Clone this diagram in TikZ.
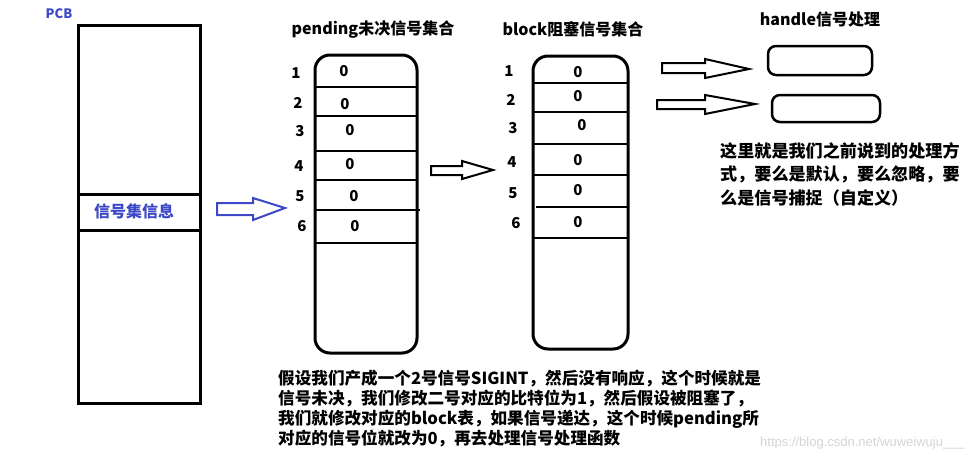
\documentclass[tikz,border=0pt]{standalone}
\usepackage{fontspec}
\setmainfont{Noto Sans CJK SC}
\newfontfamily\urlfont{Liberation Sans}
\definecolor{pcbblue}{RGB}{60,72,200}
\definecolor{markgray}{RGB}{212,212,212}

\begin{document}
\begin{tikzpicture}[x=1pt,y=-1pt,
    box/.style={line width=3pt},
    rowline/.style={line width=2.2pt},
    fatarrow/.style={line width=2pt},
    title/.style={font=\fontsize{16}{18}\selectfont\bfseries, inner sep=0pt},
    num/.style={font=\fontsize{15}{18}\selectfont\bfseries, inner sep=0pt},
    note/.style={font=\fontsize{17}{20}\selectfont\bfseries, inner sep=0pt, anchor=west, align=left}]
            \useasboundingbox (0,0) rectangle (967,463);
            \node[font=\fontsize{13}{15}\selectfont\bfseries, text=pcbblue, inner sep=0pt] (pcb) at (59,14) {PCB};
            \draw[box] (78,25) rectangle (200,403);
            \draw[box] (78,194) -- (200,194);
            \draw[box] (78,230) -- (200,230);
            \node[title, text=pcbblue] (sigset) at (134,211) {信号集信息};
            \draw[fatarrow, draw=pcbblue] (217,203) -- (253,203) -- (253,198) -- (285,208) -- (253,220) -- (253,215) -- (217,215) -- cycle;

            \node[title] (pendtitle) at (373,30) {pending未决信号集合};
            \draw[box, rounded corners=15pt] (315,55) rectangle (417,353);
            \foreach \y/\xb in {87/417, 116/417, 151/417, 180/417, 210/420, 243/417}
                \draw[rowline] (315,\y) -- (\xb,\y);
            \foreach \i/\x/\y in {1/296/73, 2/298/103, 3/300/131, 4/299/166, 5/300/196, 6/302/226}
                \node[num] (pn\i) at (\x,\y) {\i};
            \foreach \i/\x/\y in {1/344/71, 2/345/104, 3/350/130, 4/350/164, 5/354/196, 6/355/226}
                \node[num] (pv\i) at (\x,\y) {0};
            \draw[fatarrow] (431,166) -- (462,166) -- (462,161) -- (493,170) -- (462,179) -- (462,175) -- (431,175) -- cycle;

            \node[title] (blocktitle) at (573,29) {block阻塞信号集合};
            \draw[box, rounded corners=15pt] (533,56) rectangle (628,349);
            \foreach \y/\xa in {83/533, 112/533, 144/533, 175/533, 207/536, 238/533}
                \draw[rowline] (\xa,\y) -- (628,\y);
            \foreach \i/\x/\y in {1/509/71, 2/511/100, 3/513/128, 4/512/162, 5/513/193, 6/516/223}
                \node[num] (bn\i) at (\x,\y) {\i};
            \foreach \i/\x/\y in {1/578/72, 2/578/96, 3/582/125, 4/578/160, 5/578/190, 6/578/222}
                \node[num] (bv\i) at (\x,\y) {0};

            \node[title] (handletitle) at (820,19) {handle信号处理};
            \draw[fatarrow] (662,63) -- (705,63) -- (705,59) -- (749,69) -- (705,78) -- (705,73) -- (662,73) -- cycle;
            \draw[fatarrow] (657,100) -- (705,100) -- (705,95) -- (755,104) -- (705,114) -- (705,109) -- (657,109) -- cycle;
            \draw[line width=2.5pt, rounded corners=8pt] (768,46) rectangle (872,75);
            \draw[line width=2.5pt, rounded corners=8pt] (772,95) rectangle (880,122);
            \node[note, font=\fontsize{17.1}{23.5}\selectfont\bfseries] (handlenote) at (720,174) {这里就是我们之前说到的处理方\\式，要么是默认，要么忽略，要\\么是信号捕捉（自定义）};

            \node[note, font=\fontsize{16.6}{20}\selectfont\bfseries] (pendnote) at (278,409) {假设我们产成一个2号信号SIGINT，然后没有响应，这个时候就是\\信号未决，我们修改二号对应的比特位为1，然后假设被阻塞了，\\我们就修改对应的block表，如果信号递达，这个时候pending所\\对应的信号位就改为0，再去处理信号处理函数};
            \node[font=\urlfont\fontsize{13}{15}\selectfont, text=markgray, anchor=west, inner sep=0pt] (mark) at (760,443) {https://blog.csdn.net/wuweiwuju\_\_\_};
        \end{tikzpicture}
\end{document}
